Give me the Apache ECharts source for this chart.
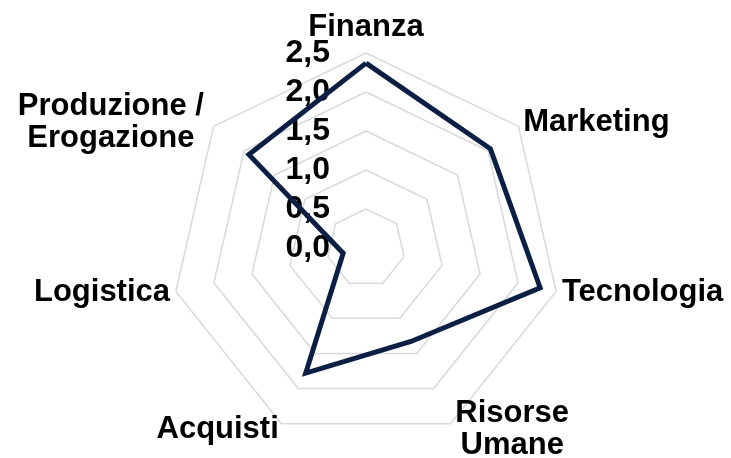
<!DOCTYPE html>
<html>
<head>
<meta charset="utf-8">
<script src="https://cdn.jsdelivr.net/npm/echarts@6/dist/echarts.min.js"></script>
<style>
  html, body { margin: 0; padding: 0; background: #fff; }
  #chart { width: 731px; height: 458px; }
</style>
</head>
<body>
<div id="chart"></div>
<script>
// Indicators, clockwise from the top
const categories = ['Finanza', 'Marketing', 'Tecnologia', 'Risorse\nUmane', 'Acquisti', 'Logistica', 'Produzione /\nErogazione']
const scores = [2.37, 2.04, 2.29, 1.33, 1.78, 0.3, 1.92]
const tickLabels = ['0,0', '0,5', '1,0', '1,5', '2,0', '2,5']
const axisMax = 2.5

const font = '"Liberation Sans", Arial, sans-serif'
const ink = '#0b1f45'

const chart = echarts.init(document.getElementById('chart'))

// echarts lays radar axes out counter-clockwise, so walk the lists backwards after the first
const order = categories.map((_, i) => (i === 0 ? 0 : categories.length - i))

const indicator = order.map((k, i) => {
  const item = { name: categories[k], min: 0, max: axisMax }
  if (i === 0) {
    // don't let the top name get pushed up by the "2,5" label
    item.nameGap = 10
    item.nameMoveOverlap = false
    // only this axis carries the scale labels
    item.axisLabel = {
      show: true,
      margin: 36,
      color: '#000',
      fontSize: 32,
      fontWeight: 'bold',
      fontFamily: font,
      formatter: v => tickLabels[Math.round(v / 0.5)]
    }
  }
  return item
})

const nameStyle = { fontSize: 31, fontWeight: 'bold', fontFamily: font, color: '#000', lineHeight: 32 }

chart.setOption({
  backgroundColor: '#fff',
  animation: false,
  radar: {
    center: [366, 248],
    radius: 195,
    startAngle: 90,
    splitNumber: 5,
    shape: 'polygon',
    nameGap: 6,
    indicator,
    axisName: Object.assign({}, nameStyle, {
      formatter: name => {
        if (name.indexOf('\n') < 0) return name
        const key = name.indexOf('Produzione') === 0 ? 'wide' : 'narrow'
        return name.split('\n').map(s => '{' + key + '|' + s + '}').join('\n')
      },
      rich: {
        wide: Object.assign({}, nameStyle, { width: 196, align: 'center' }),
        narrow: Object.assign({}, nameStyle, { width: 118, align: 'center' })
      }
    }),
    axisLine: { show: false },
    axisTick: { show: false },
    axisLabel: { show: false },
    splitArea: { show: false },
    splitLine: { lineStyle: { color: '#d9d9d9', width: 1.5 } }
  },
  series: [
    {
      type: 'radar',
      symbol: 'none',
      data: [{ value: order.map(k => scores[k]), name: 'Punteggio' }],
      lineStyle: { color: ink, width: 5, join: 'miter' },
      itemStyle: { color: ink }
    }
  ]
})
</script>
</body>
</html>
